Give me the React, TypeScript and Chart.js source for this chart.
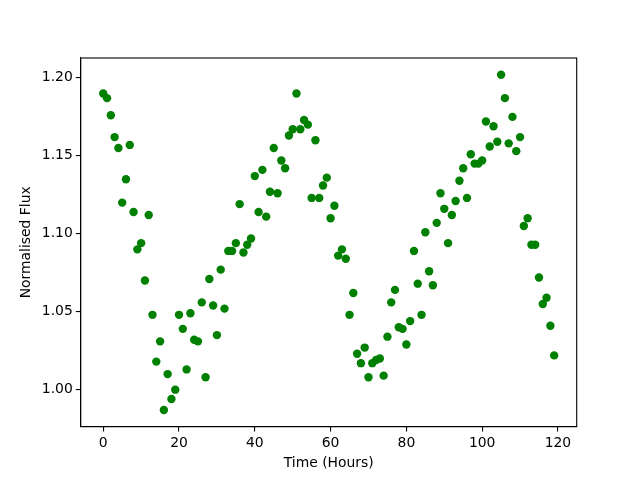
import React, { useEffect, useRef } from "react";
import { Chart, registerables } from "chart.js";

Chart.register(...registerables);

const hours: number[] = [
  0, 1, 2, 3, 4, 5, 6, 7, 8, 9, 10, 11, 12, 13, 14, 15, 16, 17, 18, 19,
  20, 21, 22, 23, 24, 25, 26, 27, 28, 29, 30, 31, 32, 33, 34, 35, 36, 37, 38, 39,
  40, 41, 42, 43, 44, 45, 46, 47, 48, 49, 50, 51, 52, 53, 54, 55, 56, 57, 58, 59,
  60, 61, 62, 63, 64, 65, 66, 67, 68, 69, 70, 71, 72, 73, 74, 75, 76, 77, 78, 79,
  80, 81, 82, 83, 84, 85, 86, 87, 88, 89, 90, 91, 92, 93, 94, 95, 96, 97, 98, 99,
  100, 101, 102, 103, 104, 105, 106, 107, 108, 109, 110, 111, 112, 113, 114, 115, 116, 117, 118, 119,
];

const flux: number[] = [
  1.190, 1.187, 1.176, 1.162, 1.155, 1.120, 1.135, 1.157, 1.114, 1.090,
  1.094, 1.070, 1.112, 1.048, 1.018, 1.031, 0.987, 1.010, 0.994, 1.000,
  1.048, 1.039, 1.013, 1.049, 1.032, 1.031, 1.056, 1.008, 1.071, 1.054,
  1.035, 1.077, 1.052, 1.089, 1.089, 1.094, 1.119, 1.088, 1.093, 1.097,
  1.137, 1.114, 1.141, 1.111, 1.127, 1.155, 1.126, 1.147, 1.142, 1.163,
  1.167, 1.190, 1.167, 1.173, 1.170, 1.123, 1.160, 1.123, 1.131, 1.136,
  1.110, 1.118, 1.086, 1.090, 1.084, 1.048, 1.062, 1.023, 1.017, 1.027,
  1.008, 1.017, 1.019, 1.020, 1.009, 1.034, 1.056, 1.064, 1.040, 1.039,
  1.029, 1.044, 1.089, 1.068, 1.048, 1.101, 1.076, 1.067, 1.107, 1.126,
  1.116, 1.094, 1.112, 1.121, 1.134, 1.142, 1.123, 1.151, 1.145, 1.145,
  1.147, 1.172, 1.156, 1.169, 1.159, 1.202, 1.187, 1.158, 1.175, 1.153,
  1.162, 1.105, 1.110, 1.093, 1.093, 1.072, 1.055, 1.059, 1.041, 1.022,
];

const xTicks: number[] = [0, 20, 40, 60, 80, 100, 120];
const yTicks: number[] = [1.0, 1.05, 1.1, 1.15, 1.2];

const xLabel = "Time (Hours)";
const yLabel = "Normalised Flux";

const FONT = "'DejaVu Sans', sans-serif";
const FS = 13.9;

const framePlugin = {
  id: "frame",
  afterDraw(chart: any) {
    const { ctx, chartArea } = chart;
    ctx.save();
    ctx.strokeStyle = "#000";
    ctx.lineWidth = 1.1;
    ctx.strokeRect(chartArea.left, chartArea.top, chartArea.right - chartArea.left, chartArea.bottom - chartArea.top);
    ctx.restore();
  },
};

export default function App() {
  const ref = useRef<HTMLCanvasElement | null>(null);

  useEffect(() => {
    if (!ref.current) return;
    const points = hours.map((h, i) => ({ x: h, y: flux[i] }));
    const chart = new Chart(ref.current, {
      type: "scatter",
      data: {
        datasets: [
          {
            data: points,
            backgroundColor: "#008000",
            borderColor: "#008000",
            borderWidth: 0,
            pointRadius: 4.2,
            pointHoverRadius: 4.2,
          },
        ],
      },
      options: {
        responsive: false,
        animation: false,
        devicePixelRatio: 1,
        layout: { padding: { left: 0, top: 58, right: 63.3, bottom: 0 } },
        plugins: {
          legend: { display: false },
          tooltip: { enabled: false },
        },
        scales: {
          x: {
            type: "linear",
            min: -5.95,
            max: 124.95,
            afterBuildTicks: (scale: any) => {
              scale.ticks = xTicks.map((v) => ({ value: v }));
            },
            afterFit: (scale: any) => {
              scale.height = 480 - 426.7;
            },
            grid: {
              display: true,
              drawOnChartArea: false,
              drawTicks: true,
              tickLength: 4.9,
              color: "#000",
              lineWidth: 1.1,
            },
            border: { display: true, color: "#000", width: 1.1 },
            ticks: {
              color: "#000",
              font: { family: FONT, size: FS },
              padding: 3,
              maxRotation: 0,
              autoSkip: false,
              callback: (v: any) => String(v),
            },
            title: {
              display: true,
              text: xLabel,
              color: "#000",
              font: { family: FONT, size: FS },
              padding: { top: 0, bottom: 8.7 },
            },
          },
          y: {
            type: "linear",
            min: 0.97625,
            max: 1.21275,
            afterBuildTicks: (scale: any) => {
              scale.ticks = yTicks.map((v) => ({ value: v }));
            },
            afterFit: (scale: any) => {
              scale.width = 80.7;
            },
            grid: {
              display: true,
              drawOnChartArea: false,
              drawTicks: true,
              tickLength: 4.9,
              color: "#000",
              lineWidth: 1.1,
            },
            border: { display: true, color: "#000", width: 1.1 },
            ticks: {
              color: "#000",
              font: { family: FONT, size: FS },
              padding: 3,
              autoSkip: false,
              callback: (v: any) => Number(v).toFixed(2),
            },
            title: {
              display: true,
              text: yLabel,
              color: "#000",
              font: { family: FONT, size: FS },
              padding: { top: 17.7, bottom: 0 },
            },
          },
        },
      },
      plugins: [framePlugin],
    });
    return () => chart.destroy();
  }, []);

  return (
    <div style={{ position: "fixed", left: 0, top: 0, width: 640, height: 480, background: "#fff" }}>
      <canvas ref={ref} width={640} height={480} style={{ display: "block" }} />
    </div>
  );
}
